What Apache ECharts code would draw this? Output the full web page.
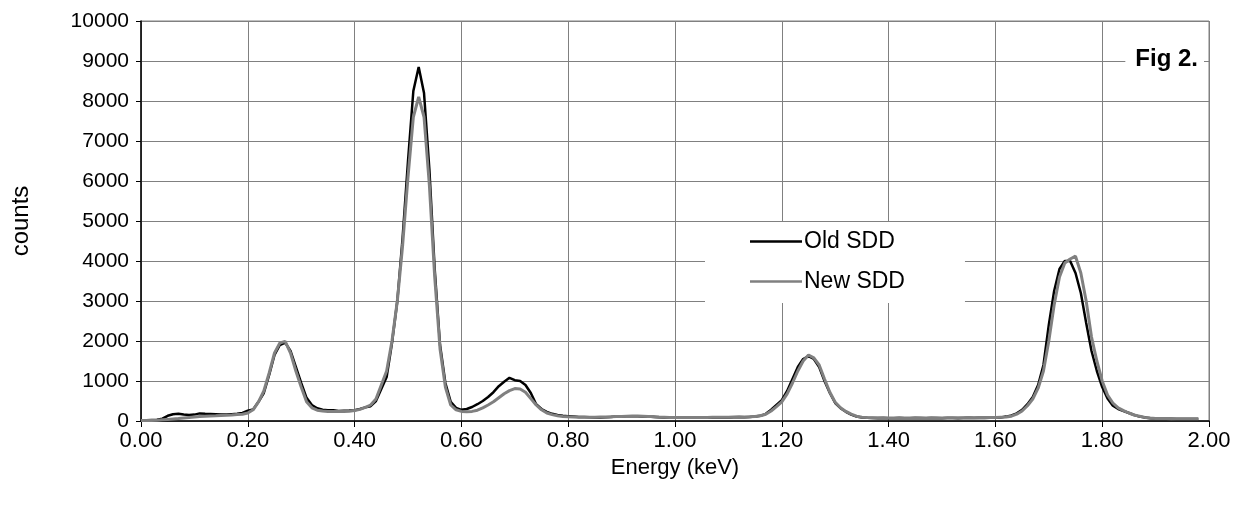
<!DOCTYPE html>
<html>
<head>
<meta charset="utf-8">
<title>Fig 2</title>
<script src="https://cdn.jsdelivr.net/npm/echarts@6/dist/echarts.min.js"></script>
<style>
  html, body { margin: 0; padding: 0; background: #fff; }
  #chart { width: 1242px; height: 508px; }
</style>
</head>
<body>
<div id="chart"></div>
<script>
// spectrum sampled every 0.01 keV starting at 0.00
const ENERGY_START = 0;
const ENERGY_STEP = 0.01;

const oldSDD = [
  20, 20, 25, 30, 60, 130, 170, 180, 160, 150,
  160, 190, 180, 175, 170, 165, 160, 170, 180, 200,
  260, 290, 480, 700, 1150, 1650, 1900, 1960, 1750, 1350,
  950, 580, 400, 320, 280, 270, 270, 250, 255, 260,
  270, 300, 340, 370, 500, 800, 1100, 1950, 3000, 4600,
  6500, 8250, 8850, 8200, 6300, 3800, 1900, 950, 480, 330,
  280, 300, 350, 420, 500, 600, 720, 870, 980, 1080,
  1020, 1000, 900, 700, 420, 300, 230, 180, 150, 130,
  120, 110, 100, 100, 95, 90, 90, 95, 100, 110,
  115, 120, 120, 120, 115, 110, 100, 95, 90, 85,
  80, 80, 85, 80, 85, 90, 85, 90, 95, 90,
  90, 95, 100, 95, 100, 110, 130, 180, 280, 400,
  520, 750, 1050, 1350, 1550, 1620, 1550, 1350, 1000, 700,
  450, 320, 230, 160, 110, 90, 80, 75, 70, 75,
  70, 70, 75, 70, 70, 75, 70, 70, 75, 70,
  70, 75, 75, 70, 75, 80, 75, 80, 75, 80,
  80, 90, 110, 140, 190, 280, 420, 600, 900, 1400,
  2400, 3250, 3800, 4000, 4000, 3700, 3200, 2450, 1750, 1250,
  850, 560, 380, 300, 250, 200, 150, 110, 90, 70,
  60, 60, 55, 55, 50, 50, 50, 50, 50
];

const newSDD = [
  10, 10, 15, 20, 30, 40, 50, 60, 75, 90,
  100, 110, 120, 125, 130, 140, 145, 150, 160, 170,
  200, 280, 480, 750, 1200, 1700, 1950, 1990, 1700, 1250,
  850, 480, 330, 270, 250, 240, 240, 235, 240, 245,
  260, 290, 340, 400, 550, 900, 1250, 2000, 3000, 4400,
  6100, 7600, 8100, 7600, 5900, 3600, 1800, 850, 400, 280,
  240, 230, 240, 270, 330, 400, 480, 580, 680, 760,
  810, 800, 720, 560, 400, 280, 200, 160, 130, 115,
  105, 100, 95, 95, 95, 95, 100, 100, 105, 110,
  115, 120, 125, 125, 120, 115, 110, 100, 95, 90,
  85, 85, 85, 90, 90, 90, 90, 95, 95, 95,
  95, 100, 100, 100, 105, 110, 130, 170, 250, 360,
  480, 680, 950, 1250, 1500, 1650, 1580, 1400, 1050, 720,
  470, 330, 240, 170, 120, 95, 85, 80, 80, 80,
  75, 75, 80, 75, 75, 80, 80, 75, 80, 80,
  75, 80, 80, 80, 80, 85, 80, 85, 85, 85,
  85, 95, 100, 120, 170, 250, 380, 550, 820, 1250,
  2000, 2900, 3600, 3950, 4050, 4120, 3700, 3000, 2100, 1500,
  1000, 650, 450, 330, 260, 200, 150, 120, 90, 75,
  65, 60, 60, 55, 55, 55, 55, 55, 55
];

const seriesNames = ['Old SDD', 'New SDD'];

function toPairs(values) {
  return values.map((v, i) => [+(ENERGY_START + i * ENERGY_STEP).toFixed(2), v]);
}

const FONT = '"Liberation Sans", Arial, sans-serif';
const chart = echarts.init(document.getElementById('chart'), null, { renderer: 'canvas' });

chart.setOption({
  animation: false,
  backgroundColor: '#fff',
  textStyle: { fontFamily: FONT, color: '#000' },
  grid: {
    left: 141, right: 33, top: 21, bottom: 87,
    show: true, borderColor: '#808080', borderWidth: 1
  },
  legend: {
    data: seriesNames,
    orient: 'vertical',
    left: 705,
    top: 222,
    icon: 'rect',
    itemWidth: 52,
    itemHeight: 2.5,
    itemGap: 17,
    backgroundColor: '#fff',
    padding: [8, 60, 10, 45],
    textStyle: { fontFamily: FONT, fontSize: 23, color: '#000', padding: [0, 0, 0, -3], lineHeight: 23 }
  },
  xAxis: {
    type: 'value',
    min: 0, max: 2, interval: 0.2,
    name: 'Energy (keV)',
    nameLocation: 'middle',
    nameGap: 36,
    nameTextStyle: { fontFamily: FONT, fontSize: 22, color: '#000' },
    axisLine: { show: true, onZero: false, lineStyle: { color: '#000', width: 1.5 } },
    axisTick: { show: true, length: 6, lineStyle: { color: '#000' } },
    axisLabel: {
      fontFamily: FONT, fontSize: 22, color: '#000', margin: 9,
      formatter: v => v.toFixed(2)
    },
    splitLine: { show: true, lineStyle: { color: '#808080', width: 1 } }
  },
  yAxis: {
    type: 'value',
    min: 0, max: 10000, interval: 1000,
    name: 'counts',
    nameLocation: 'middle',
    nameGap: 108,
    nameRotate: 90,
    nameTextStyle: { fontFamily: FONT, fontSize: 24, color: '#000' },
    axisLine: { show: true, lineStyle: { color: '#000', width: 1.5 } },
    axisTick: { show: true, length: 5, lineStyle: { color: '#000' } },
    axisLabel: { fontFamily: FONT, fontSize: 21, color: '#000', margin: 12, formatter: v => String(v) },
    splitLine: { show: true, lineStyle: { color: '#808080', width: 1 } }
  },
  graphic: [{
    type: 'text',
    right: 38,
    top: 43,
    z: 10,
    style: {
      text: 'Fig 2.',
      font: 'bold 24px ' + FONT,
      fill: '#000',
      backgroundColor: '#fff',
      padding: [4, 6, 8, 10]
    }
  }],
  series: [
    {
      name: seriesNames[0],
      type: 'line',
      data: toPairs(oldSDD),
      showSymbol: false,
      symbol: 'none',
      smooth: false,
      color: '#000',
      lineStyle: { color: '#000', width: 2.5 },
      z: 2
    },
    {
      name: seriesNames[1],
      type: 'line',
      data: toPairs(newSDD),
      showSymbol: false,
      symbol: 'none',
      smooth: false,
      color: '#808080',
      lineStyle: { color: '#808080', width: 3 },
      z: 3
    }
  ]
});

window.addEventListener('resize', () => chart.resize());
</script>
</body>
</html>
